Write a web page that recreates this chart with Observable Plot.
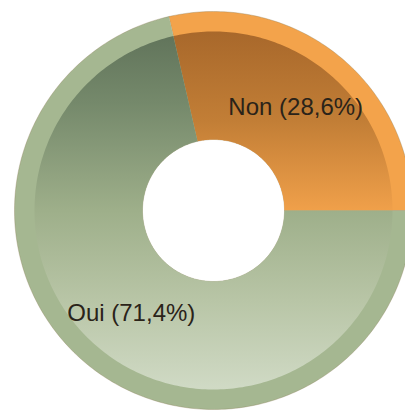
<!DOCTYPE html>
<html>
<head>
<meta charset="utf-8">
<script src="https://cdn.jsdelivr.net/npm/d3@7"></script>
<script src="https://cdn.jsdelivr.net/npm/@observablehq/plot@0.6"></script>
<style>
  html, body { margin: 0; padding: 0; background: #fff; }
  #chart { width: 405px; height: 410px; }
</style>
</head>
<body>
<div id="chart"></div>
<script>
// ---- data ----
const categories = ["Non", "Oui"];
const values = [28.6, 71.4];
const labels = ["Non (28,6%)", "Oui (71,4%)"];

// ---- geometry (in scale units = px) ----
const W = 405, H = 410;
const cx = 213, cy = 210;          // centre in pixels
const R = 199, Rin = 179, r0 = 71;  // outer, inner-band, hole radii
const total = d3.sum(values);

function slicePoints(rOuter, rInner) {
  const pts = [];
  let acc = 0;
  values.forEach((v, i) => {
    const s = acc / total * 2 * Math.PI;
    acc += v;
    const e = acc / total * 2 * Math.PI;
    const n = Math.max(8, Math.ceil((e - s) / (Math.PI / 180)));
    for (let k = 0; k <= n; k++) {
      const a = s + (e - s) * k / n;
      pts.push({cat: categories[i], x: rOuter * Math.cos(a), y: rOuter * Math.sin(a)});
    }
    for (let k = n; k >= 0; k--) {
      const a = s + (e - s) * k / n;
      pts.push({cat: categories[i], x: rInner * Math.cos(a), y: rInner * Math.sin(a)});
    }
  });
  return pts;
}

const outerPts = slicePoints(R, r0);
const innerPts = slicePoints(Rin, r0);

let acc2 = 0;
const labelPts = values.map((v, i) => {
  const s = acc2 / total * 2 * Math.PI;
  acc2 += v;
  const e = acc2 / total * 2 * Math.PI;
  const m = (s + e) / 2;
  return {label: labels[i], x: 132 * Math.cos(m), y: 132 * Math.sin(m)};
});

const svg = Plot.plot({
  width: W,
  height: H,
  margin: 0,
  x: {domain: [-cx, W - cx], axis: null},
  y: {domain: [-(H - cy), cy], axis: null},
  color: {type: "ordinal", domain: categories, range: ["#F3A34B", "#A5B791"]},
  marks: [
    Plot.line(outerPts, {x: "x", y: "y", z: "cat", fill: "cat", stroke: "#8d7f5a", strokeOpacity: 0.35, strokeWidth: 1}),
    Plot.line(innerPts.filter(d => d.cat === categories[0]), {x: "x", y: "y", fill: "url(#gradNon)", stroke: "none"}),
    Plot.line(innerPts.filter(d => d.cat === categories[1]), {x: "x", y: "y", fill: "url(#gradOui)", stroke: "none"}),
    Plot.text(labelPts, {x: "x", y: "y", text: "label", fontSize: 24, fill: "#2a2319",
      fontFamily: "Liberation Sans, Arial, sans-serif", textAnchor: "middle"})
  ]
});

const sel = d3.select(svg);
const defs = sel.insert("defs", ":first-child");
function grad(id, stops) {
  const g = defs.append("linearGradient").attr("id", id)
    .attr("gradientUnits", "userSpaceOnUse")
    .attr("x1", 0).attr("x2", 0).attr("y1", cy - Rin).attr("y2", cy + Rin);
  stops.forEach(([o, c]) => g.append("stop").attr("offset", o).attr("stop-color", c));
}
grad("gradNon", [[0, "#A8682B"], [0.25, "#C27E36"], [0.5, "#F0A04A"], [1, "#F0A04A"]]);
grad("gradOui", [[0, "#60735A"], [0.2, "#75896B"], [0.5, "#9EAF8A"], [0.75, "#B8C5A6"], [1, "#D0DAC5"]]);

document.getElementById("chart").appendChild(svg);
</script>
</body>
</html>
